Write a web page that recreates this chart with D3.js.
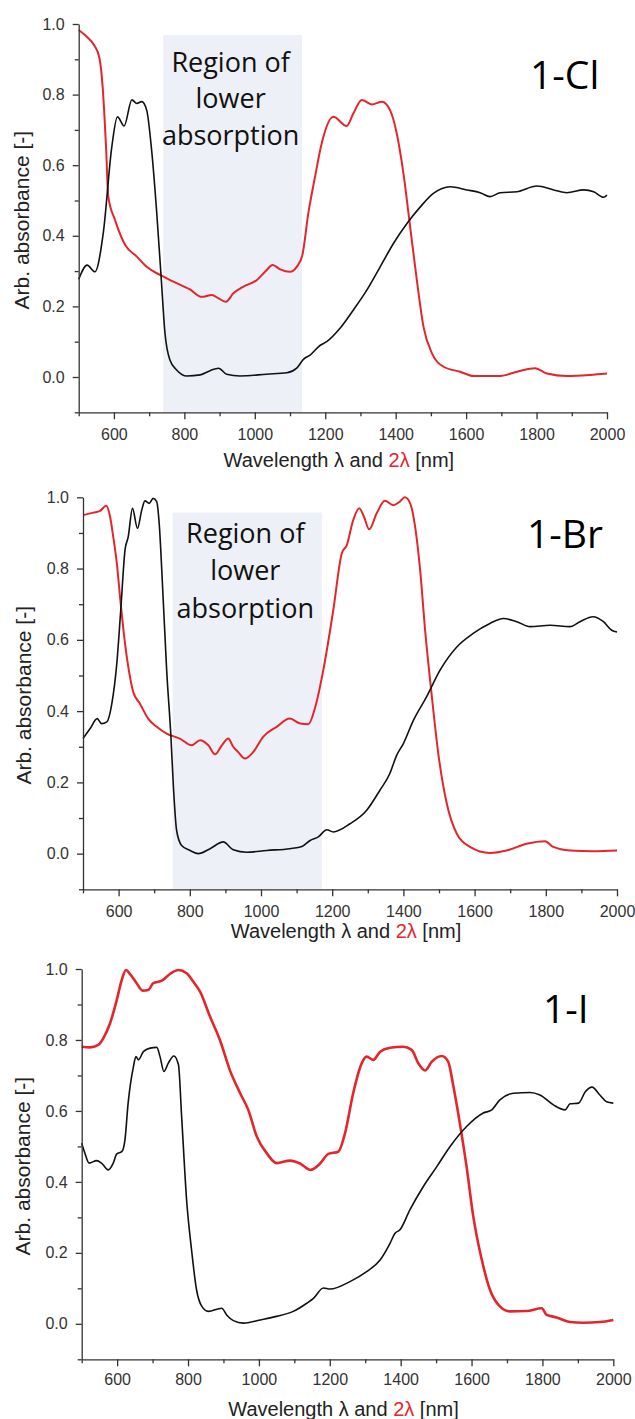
<!DOCTYPE html>
<html lang="en">
<head>
    <title>Absorbance spectra 1-Cl, 1-Br, 1-I</title>
    <script src="https://d3js.org/d3.v7.min.js"></script>
    <style>
        body { margin: 0; background: #fff; }
        svg { display: block; }
    </style>
</head>
<body>
<script>
    // tick values (shared by the three panels)
    var xTicksMajor = [600, 800, 1000, 1200, 1400, 1600, 1800, 2000];
    var xTicksMinor = [500, 700, 900, 1100, 1300, 1500, 1700, 1900];
    var yTicksMajor = [0.0, 0.2, 0.4, 0.6, 0.8, 1.0];
    var yTicksMinor = [-0.1, 0.1, 0.3, 0.5, 0.7, 0.9];

    // 1-Cl : black = lambda, red = 2 lambda  ([nm, absorbance])
    var clBlack = [[500,0.277],[524,0.317],[546,0.298],[570,0.41],[594,0.652],[610,0.737],[629,0.711],
        [651,0.785],[665,0.775],[679,0.78],[693,0.756],[707,0.643],[721,0.473],[734,0.284],[745,0.124],
        [759,0.048],[778,0.02],[807,0.003],[845,0.006],[873,0.018],[897,0.025],[920,0.008],[958,0.003],
        [1034,0.008],[1091,0.012],[1119,0.025],[1138,0.05],[1157,0.062],[1186,0.09],[1204,0.1],
        [1242,0.138],[1280,0.19],[1318,0.246],[1356,0.312],[1394,0.379],[1432,0.435],[1470,0.482],
        [1507,0.52],[1555,0.539],[1602,0.53],[1640,0.522],[1668,0.511],[1697,0.522],[1744,0.525],
        [1801,0.541],[1849,0.53],[1886,0.522],[1934,0.53],[1962,0.525],[1990,0.509],[2000,0.515]];
    var clRed = [[500,0.983],[523,0.964],[544,0.94],[559,0.903],[568,0.822],[578,0.643],[584,0.511],
        [603,0.445],[632,0.374],[665,0.341],[693,0.312],[731,0.289],[769,0.27],[816,0.248],[849,0.227],
        [878,0.232],[897,0.223],[918,0.213],[939,0.237],[968,0.256],[1006,0.275],[1029,0.298],
        [1051,0.317],[1072,0.305],[1100,0.298],[1119,0.312],[1135,0.345],[1152,0.464],[1171,0.567],
        [1190,0.662],[1223,0.737],[1261,0.711],[1280,0.747],[1304,0.785],[1332,0.772],[1361,0.78],
        [1384,0.756],[1403,0.69],[1422,0.577],[1441,0.426],[1460,0.275],[1479,0.142],[1503,0.067],
        [1536,0.029],[1583,0.015],[1621,0.003],[1697,0.003],[1744,0.015],[1796,0.025],[1829,0.01],
        [1886,0.003],[1952,0.006],[2000,0.01]];

    // 1-Br
    var brBlack = [[500,0.323],[520,0.351],[540,0.379],[552,0.365],[567,0.37],[581,0.421],[595,0.534],
        [606,0.683],[618,0.852],[627,0.889],[639,0.969],[653,0.913],[665,0.964],[674,0.99],[686,0.983],
        [697,0.997],[707,0.988],[714,0.927],[724,0.74],[735,0.515],[747,0.328],[754,0.187],[763,0.065],
        [777,0.023],[801,0.009],[824,0.0],[857,0.014],[894,0.033],[922,0.011],[960,0.004],[1016,0.009],
        [1081,0.014],[1115,0.02],[1138,0.037],[1161,0.047],[1185,0.067],[1203,0.061],[1250,0.084],
        [1297,0.122],[1334,0.178],[1362,0.225],[1381,0.276],[1400,0.309],[1428,0.374],[1465,0.44],
        [1503,0.515],[1550,0.58],[1596,0.618],[1643,0.646],[1681,0.66],[1718,0.651],[1756,0.637],
        [1812,0.641],[1868,0.637],[1896,0.651],[1933,0.665],[1962,0.651],[1985,0.627],[2000,0.622]];
    var brRed = [[500,0.95],[529,0.957],[548,0.962],[565,0.976],[576,0.946],[585,0.889],[595,0.815],
        [604,0.721],[618,0.59],[632,0.496],[641,0.454],[660,0.421],[683,0.379],[707,0.356],[735,0.337],
        [772,0.323],[805,0.304],[829,0.318],[852,0.304],[871,0.279],[890,0.304],[908,0.323],[922,0.3],
        [936,0.285],[955,0.267],[978,0.285],[1006,0.328],[1044,0.356],[1081,0.379],[1110,0.365],
        [1133,0.363],[1152,0.41],[1175,0.515],[1203,0.683],[1227,0.843],[1241,0.866],[1259,0.936],
        [1276,0.969],[1289,0.946],[1304,0.91],[1325,0.955],[1348,0.99],[1372,0.978],[1390,0.988],
        [1404,1.0],[1419,0.983],[1433,0.917],[1447,0.796],[1461,0.627],[1480,0.44],[1498,0.281],
        [1522,0.14],[1550,0.056],[1587,0.019],[1643,0.002],[1690,0.009],[1746,0.028],[1798,0.035],
        [1821,0.019],[1868,0.009],[1933,0.007],[2000,0.009]];

    // 1-I
    var iBlack = [[500,0.509],[509,0.481],[521,0.453],[542,0.46],[556,0.453],[575,0.434],[589,0.453],
        [599,0.479],[613,0.485],[622,0.518],[631,0.622],[646,0.725],[653,0.753],[660,0.744],[674,0.767],
        [693,0.777],[712,0.779],[721,0.753],[732,0.711],[744,0.734],[760,0.755],[773,0.73],[782,0.584],
        [796,0.349],[810,0.208],[824,0.096],[839,0.049],[857,0.035],[895,0.044],[909,0.025],[928,0.009],
        [956,0.002],[1003,0.011],[1050,0.021],[1097,0.035],[1135,0.058],[1154,0.072],[1182,0.101],
        [1201,0.098],[1257,0.119],[1304,0.147],[1342,0.18],[1370,0.227],[1384,0.255],[1398,0.265],
        [1426,0.321],[1464,0.387],[1502,0.443],[1539,0.499],[1586,0.556],[1633,0.594],[1657,0.603],
        [1680,0.631],[1718,0.65],[1765,0.652],[1793,0.645],[1831,0.617],[1864,0.603],[1878,0.62],
        [1902,0.622],[1921,0.654],[1940,0.667],[1962,0.645],[1981,0.626],[2000,0.622]];
    var iRed = [[500,0.781],[523,0.779],[547,0.786],[561,0.805],[580,0.847],[599,0.913],[613,0.969],
        [625,0.997],[636,0.986],[655,0.96],[672,0.939],[688,0.941],[702,0.96],[726,0.967],[749,0.986],
        [773,0.997],[796,0.988],[815,0.964],[834,0.936],[862,0.866],[890,0.8],[918,0.715],[947,0.65],
        [970,0.603],[994,0.528],[1022,0.481],[1050,0.453],[1088,0.46],[1116,0.452],[1146,0.434],
        [1172,0.451],[1196,0.479],[1224,0.485],[1243,0.537],[1266,0.65],[1290,0.734],[1304,0.753],
        [1323,0.744],[1342,0.767],[1370,0.778],[1407,0.781],[1431,0.772],[1450,0.734],[1469,0.714],
        [1488,0.739],[1516,0.755],[1534,0.739],[1549,0.668],[1567,0.565],[1586,0.443],[1605,0.302],
        [1629,0.18],[1652,0.096],[1680,0.049],[1708,0.035],[1755,0.036],[1798,0.044],[1812,0.025],
        [1840,0.018],[1878,0.005],[1915,0.003],[1962,0.005],[2000,0.011]];

    // shaded "Region of lower absorption" [from nm, to nm, top]
    var clRegion = [740, 1134, 0.969];
    var brRegion = [752, 1171, 0.957];
    var regionLines = ["Region of", "lower", "absorption"];

    var panels = [
        { title: "1-Cl", black: clBlack, red: clRed, region: clRegion,
          left: 78.7, right: 607, top: 24, bottom: 412.3,
          titleX: 530, titleY: 89, regionY: 71.5, regionStep: 36.5,
          yLabelX: 29, tickDy: 28, labelDy: 55, redWidth: 2 },
        { title: "1-Br", black: brBlack, red: brRed, region: brRegion,
          left: 83, right: 617, top: 497.3, bottom: 889.3,
          titleX: 527, titleY: 548, regionY: 542.5, regionStep: 37.5,
          yLabelX: 31, tickDy: 28, labelDy: 49, redWidth: 2 },
        { title: "1-I", black: iBlack, red: iRed, region: null,
          left: 81.7, right: 613.3, top: 969, bottom: 1359.3,
          titleX: 543, titleY: 1023,
          yLabelX: 30, tickDy: 26, labelDy: 57, redWidth: 2.6 }
    ];

    var width = 635, height = 1419;
    var axisColor = "#333";
    var red = "#e3262b";

    var svg = d3.select("body").append("svg")
        .attr("width", width)
        .attr("height", height)
        .style("font-family", "'Liberation Sans', Arial, sans-serif");

    panels.forEach(function (p) {
        var x = d3.scaleLinear().domain([500, 2000]).range([p.left, p.right]);
        var y = d3.scaleLinear().domain([-0.1, 1.0]).range([p.bottom, p.top]);
        var g = svg.append("g");

        // shaded region + its text
        if (p.region) {
            g.append("rect")
                .attr("x", x(p.region[0]))
                .attr("y", y(p.region[2]))
                .attr("width", x(p.region[1]) - x(p.region[0]))
                .attr("height", y(-0.1) - y(p.region[2]))
                .attr("fill", "#edf0f7");
            g.selectAll(".region-text")
                .data(regionLines)
                .enter()
                .append("text")
                .attr("x", (x(p.region[0]) + x(p.region[1])) / 2 - 2)
                .attr("y", function (d, i) { return p.regionY + i * p.regionStep; })
                .attr("text-anchor", "middle")
                .style("font-family", "'Open Sans', sans-serif")
                .style("font-size", "27px")
                .attr("fill", "#111")
                .text(function (d) { return d; });
        }

        // curves
        var line = d3.line()
            .x(function (d) { return x(d[0]); })
            .y(function (d) { return y(d[1]); })
            .curve(d3.curveMonotoneX);

        g.append("path")
            .datum(p.red)
            .attr("d", line)
            .attr("fill", "none")
            .attr("stroke", red)
            .attr("stroke-width", p.redWidth)
            .attr("stroke-linejoin", "round");

        g.append("path")
            .datum(p.black)
            .attr("d", line)
            .attr("fill", "none")
            .attr("stroke", "#111")
            .attr("stroke-width", 1.6)
            .attr("stroke-linejoin", "round");

        // x axis
        var xAxis = g.append("g")
            .attr("transform", "translate(0," + p.bottom + ")")
            .call(d3.axisBottom(x).tickValues(xTicksMajor).tickSize(7).tickSizeOuter(0)
                .tickFormat(d3.format("d")));
        g.append("g")
            .attr("transform", "translate(0," + p.bottom + ")")
            .call(d3.axisBottom(x).tickValues(xTicksMinor).tickSize(4).tickFormat(""))
            .select(".domain").remove();
        xAxis.selectAll("text")
            .attr("y", null).attr("dy", null)
            .attr("transform", "translate(0," + p.tickDy + ")")
            .style("font-size", "16px")
            .style("font-family", "'Liberation Sans', Arial, sans-serif")
            .attr("fill", axisColor);

        // y axis
        var yAxis = g.append("g")
            .attr("transform", "translate(" + p.left + ",0)")
            .call(d3.axisLeft(y).tickValues(yTicksMajor).tickSize(6).tickSizeOuter(0)
                .tickPadding(8).tickFormat(d3.format(".1f")));
        g.append("g")
            .attr("transform", "translate(" + p.left + ",0)")
            .call(d3.axisLeft(y).tickValues(yTicksMinor).tickSize(4).tickFormat(""))
            .select(".domain").remove();
        yAxis.selectAll("text")
            .style("font-size", "16px")
            .style("font-family", "'Liberation Sans', Arial, sans-serif")
            .attr("fill", axisColor);

        g.selectAll(".domain, .tick line")
            .attr("stroke", axisColor)
            .attr("stroke-width", 1.3);

        // axis titles
        var xl = g.append("text")
            .attr("x", (p.left + p.right) / 2 - 4)
            .attr("y", p.bottom + p.labelDy)
            .attr("text-anchor", "middle")
            .style("font-size", "20px")
            .attr("fill", "#222");
        xl.append("tspan").text("Wavelength \u03bb and ");
        xl.append("tspan").attr("fill", red).text("2\u03bb");
        xl.append("tspan").text(" [nm]");

        g.append("text")
            .attr("transform", "translate(" + p.yLabelX + "," + ((y(-0.1) + y(1.0)) / 2 + 2) + ") rotate(-90)")
            .attr("text-anchor", "middle")
            .style("font-size", "21px")
            .attr("fill", "#222")
            .text("Arb. absorbance [-]");

        // panel title
        g.append("text")
            .attr("x", p.titleX)
            .attr("y", p.titleY)
            .style("font-family", "'Open Sans', sans-serif")
            .style("font-size", "39px")
            .attr("fill", "#000")
            .text(p.title);
    });
</script>
</body>
</html>
